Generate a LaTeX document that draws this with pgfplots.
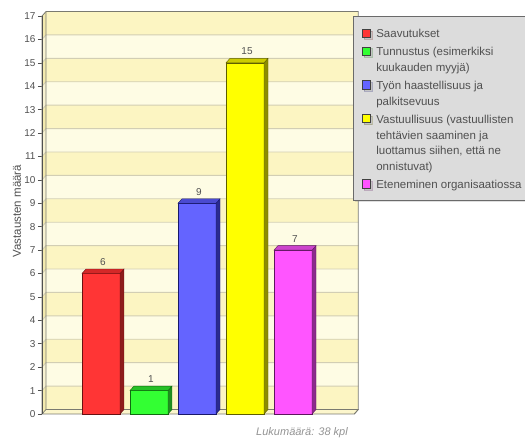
\documentclass[border=0pt]{standalone}
\usepackage{pgfplots}
\pgfplotsset{compat=1.18}
\usetikzlibrary{shadows}
\usepackage{fontspec}
\setmainfont{Liberation Sans}

% palette
\definecolor{bandA}{HTML}{FCF5C2}
\definecolor{bandB}{HTML}{FEFCE4}
\definecolor{wallA}{HTML}{F3EAAE}
\definecolor{wallB}{HTML}{F8F3D2}
\definecolor{floorc}{HTML}{FCF6CC}
\definecolor{gridc}{HTML}{D2CEB4}
\definecolor{framec}{HTML}{7A7A70}
\definecolor{txtc}{HTML}{505050}
\definecolor{legfill}{HTML}{DCDCDC}
\definecolor{legdraw}{HTML}{6A6A6A}
\definecolor{fR}{HTML}{FF3535}\definecolor{sR}{HTML}{8E1C1C}\definecolor{tR}{HTML}{D42828}\definecolor{eR}{HTML}{6A1010}
\definecolor{fG}{HTML}{33FF33}\definecolor{sG}{HTML}{1F8F1F}\definecolor{tG}{HTML}{26C026}\definecolor{eG}{HTML}{106A10}
\definecolor{fB}{HTML}{6464FF}\definecolor{sB}{HTML}{2A2A90}\definecolor{tB}{HTML}{4A4AD0}\definecolor{eB}{HTML}{18186A}
\definecolor{fY}{HTML}{FFFF00}\definecolor{sY}{HTML}{8C8C00}\definecolor{tY}{HTML}{CCCC00}\definecolor{eY}{HTML}{5E5E00}
\definecolor{fM}{HTML}{FF55FF}\definecolor{sM}{HTML}{8C2A8C}\definecolor{tM}{HTML}{CC44CC}\definecolor{eM}{HTML}{5E165E}

% 3D depth of the chart box, in axis units
\def\xf{-1.229}  % front left
\def\xb{-1.146}  % back left
\def\xr{5.36}    % back right
\def\xrf{5.277}  % front right
\def\dy{0.193}

\begin{document}
\begin{tikzpicture}
\useasboundingbox (0,0) rectangle (525pt,443pt);
\begin{axis}[
  at={(42pt,29pt)}, anchor=south west,
  scale only axis, width=316.3pt, height=402.4pt,
  xmin=-1.229, xmax=5.36, ymin=0, ymax=17.19,
  clip=false,
  axis x line=none, axis y line=left,
  axis line style={draw=none},
  ytick={0,1,...,17},
  tick align=outside, major tick length=4pt,
  ytick style={draw=txtc, line width=0.6pt},
  /pgf/number format/assume math mode=true,
  yticklabel style={font=\fontsize{10}{12}\selectfont, text=txtc, xshift=1pt},
  ylabel={Vastausten määrä},
  ylabel style={at={(axis description cs:-0.079,0.504)}, anchor=center,
    font=\fontsize{11.5}{13}\selectfont, text=txtc},
  legend cell align=left,
  legend image code/.code={\draw[#1, draw=black!75, line width=0.7pt] (0pt,-10.9pt) rectangle (8.3pt,-2.5pt);},
  legend style={at={(axis description cs:0.983,0.989)}, anchor=north west,
    fill=legfill, draw=legdraw, line width=0.8pt, text=txtc,
    font=\fontsize{11.5}{15.8}\selectfont,
    nodes={align=left, inner sep=0pt, anchor=north west},
    row sep=5pt, column sep=5.5pt,
    inner xsep=8.5pt, inner ysep=10pt,
    drop shadow={opacity=0.25, shadow xshift=2pt, shadow yshift=-2pt}},
]
% back wall bands
\pgfplotsinvokeforeach{0,...,16}{
  \pgfmathtruncatemacro{\isodd}{mod(#1,2)}
  \ifnum\isodd=0
    \fill[bandA] (axis cs:\xb,#1+\dy) rectangle (axis cs:\xr,{min(#1+1+\dy,17.19)});
    \fill[wallA] (axis cs:\xf,#1) -- (axis cs:\xb,#1+\dy) -- (axis cs:\xb,#1+1+\dy) -- (axis cs:\xf,#1+1) -- cycle;
  \else
    \fill[bandB] (axis cs:\xb,#1+\dy) rectangle (axis cs:\xr,{min(#1+1+\dy,17.19)});
    \fill[wallB] (axis cs:\xf,#1) -- (axis cs:\xb,#1+\dy) -- (axis cs:\xb,#1+1+\dy) -- (axis cs:\xf,#1+1) -- cycle;
  \fi
}
% grid lines
\pgfplotsinvokeforeach{1,...,16}{
  \draw[gridc, line width=0.9pt] (axis cs:\xf,#1) -- (axis cs:\xb,#1+\dy) -- (axis cs:\xr,#1+\dy);
}
% floor
\fill[floorc, draw=framec, line width=0.7pt] (axis cs:\xf,0) -- (axis cs:\xrf,0) -- (axis cs:\xr,\dy) -- (axis cs:\xb,\dy) -- cycle;
% frame of the box
\draw[framec, line width=0.8pt] (axis cs:\xb,\dy) -- (axis cs:\xb,17.19) -- (axis cs:\xr,17.19) -- (axis cs:\xr,\dy) -- (axis cs:\xrf,0);
\draw[framec, line width=0.8pt] (axis cs:\xf,0) -- (axis cs:\xf,17) -- (axis cs:\xb,17.19);
\draw[txtc, line width=0.8pt] (axis cs:\xf,0) -- (axis cs:\xf,17);

% Saavutukset = 6
\addplot[ybar, bar width=0.792, bar shift=0, fill=fR, draw=eR] coordinates {(0,6)};
\addlegendentry{\strut Saavutukset\strut}
\addplot[fill=sR, draw=eR, forget plot] coordinates {(0.396,0) (0.479,0.193) (0.479,6.193) (0.396,6)} -- cycle;
\addplot[fill=tR, draw=eR, forget plot] coordinates {(-0.396,6) (0.396,6) (0.479,6.193) (-0.313,6.193)} -- cycle;
% Tunnustus = 1
\addplot[ybar, bar width=0.792, bar shift=0, fill=fG, draw=eG] coordinates {(1,1)};
\addlegendentry{\strut Tunnustus (esimerkiksi\\kuukauden myyjä)\strut}
\addplot[fill=sG, draw=eG, forget plot] coordinates {(1.396,0) (1.479,0.193) (1.479,1.193) (1.396,1)} -- cycle;
\addplot[fill=tG, draw=eG, forget plot] coordinates {(0.604,1) (1.396,1) (1.479,1.193) (0.687,1.193)} -- cycle;
% Haasteellisuus = 9
\addplot[ybar, bar width=0.792, bar shift=0, fill=fB, draw=eB] coordinates {(2,9)};
\addlegendentry{\strut Työn haastellisuus ja\\palkitsevuus\strut}
\addplot[fill=sB, draw=eB, forget plot] coordinates {(2.396,0) (2.479,0.193) (2.479,9.193) (2.396,9)} -- cycle;
\addplot[fill=tB, draw=eB, forget plot] coordinates {(1.604,9) (2.396,9) (2.479,9.193) (1.687,9.193)} -- cycle;
% Vastuullisuus = 15
\addplot[ybar, bar width=0.792, bar shift=0, fill=fY, draw=eY] coordinates {(3,15)};
\addlegendentry{\strut Vastuullisuus (vastuullisten\\tehtävien saaminen ja\\luottamus siihen, että ne\\onnistuvat)\strut}
\addplot[fill=sY, draw=eY, forget plot] coordinates {(3.396,0) (3.479,0.193) (3.479,15.193) (3.396,15)} -- cycle;
\addplot[fill=tY, draw=eY, forget plot] coordinates {(2.604,15) (3.396,15) (3.479,15.193) (2.687,15.193)} -- cycle;
% Eteneminen = 7
\addplot[ybar, bar width=0.792, bar shift=0, fill=fM, draw=eM] coordinates {(4,7)};
\addlegendentry{\strut Eteneminen organisaatiossa\strut}
\addplot[fill=sM, draw=eM, forget plot] coordinates {(4.396,0) (4.479,0.193) (4.479,7.193) (4.396,7)} -- cycle;
\addplot[fill=tM, draw=eM, forget plot] coordinates {(3.604,7) (4.396,7) (4.479,7.193) (3.687,7.193)} -- cycle;

% value labels
\addplot[draw=none, mark=none, forget plot, point meta=y,
  nodes near coords,
  nodes near coords style={anchor=south, yshift=4.5pt, xshift=2pt,
    font=\fontsize{10}{12}\selectfont, text=txtc}]
  coordinates {(0,6) (1,1) (2,9) (3,15) (4,7)};

\node[font=\itshape\fontsize{11}{13}\selectfont, text=gray!85] at (axis description cs:0.822,-0.047) {Lukumäärä: 38 kpl};
\end{axis}
\end{tikzpicture}
\end{document}
